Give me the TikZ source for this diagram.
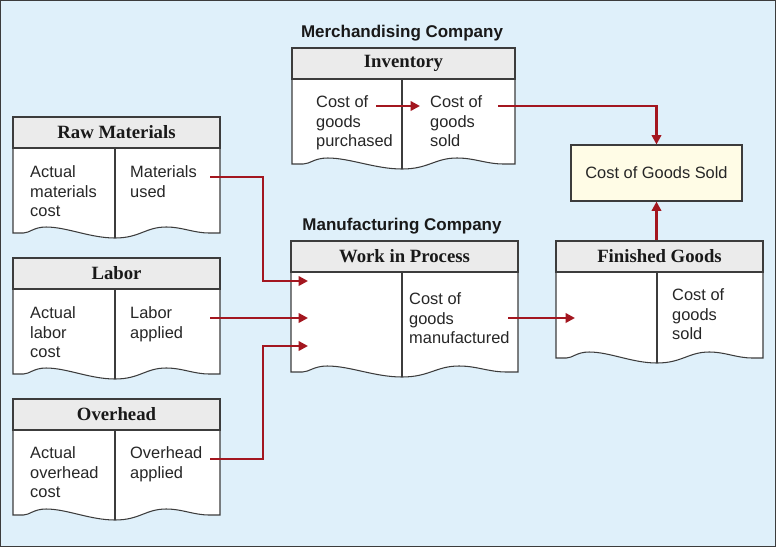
\documentclass[tikz,border=0pt]{standalone}
\usepackage{fontspec}
\setsansfont{Liberation Sans}
\newfontfamily\kopffont{Liberation Serif}
\usetikzlibrary{arrows.meta}
\definecolor{hgblau}{HTML}{DFF0FA}
\definecolor{rahmen}{HTML}{3C3C3C}
\definecolor{kopfgrau}{HTML}{EBEBEB}
\definecolor{gelb}{HTML}{FFFCE6}
\definecolor{pfeilrot}{HTML}{A3161F}
% T-Konto: Name, links, oben, rechts, Trennlinie, unten, Titel
\newcommand{\konto}[7]{%
  \pgfmathsetmacro\kw{#4-#2}
  \draw[rumpf] (#2,#3+31) -- (#4,#3+31) -- (#4,#6) -- ({#2+0.95*\kw},#6)
    .. controls ({#2+0.87*\kw},#6) and ({#2+0.82*\kw},#6-6) .. ({#2+0.74*\kw},#6-6)
    .. controls ({#2+0.64*\kw},#6-6) and ({#5+0.12*\kw},#6+5) .. (#5,#6+5)
    .. controls ({#5-0.12*\kw},#6+5) and ({#2+0.26*\kw},#6-6) .. ({#2+0.16*\kw},#6-6)
    .. controls ({#2+0.10*\kw},#6-6) and ({#2+0.08*\kw},#6) .. ({#2+0.05*\kw},#6)
    -- (#2,#6) -- cycle;
  \draw[rumpf] (#5,#3+31) -- (#5,#6+5);
  \node[kopf, minimum width={(#4-#2)*0.03cm}] (#1) at ({(#2+#4)/2},#3+15.5) {#7};
}
\begin{document}
\begin{tikzpicture}[x=0.03cm, y=-0.03cm,
    kopf/.style={draw=rahmen, fill=kopfgrau, line width=0.9pt, inner sep=0,
      minimum height=0.93cm, text=black!90, font=\kopffont\bfseries\fontsize{16}{18}\selectfont},
    rumpf/.style={draw=rahmen, fill=white, line width=0.9pt},
    buchung/.style={anchor=north west, inner sep=0, align=left, text=black!85,
      font=\sffamily\fontsize{14}{17}\selectfont},
    titel/.style={anchor=base, text=black!90, font=\sffamily\bfseries\fontsize{14.5}{17}\selectfont},
    pfeil/.style={draw=pfeilrot, line width=2.4pt, -{Triangle[length=8pt,width=8pt]}},
    linie/.style={draw=pfeilrot, line width=2.4pt}]
  \useasboundingbox (0,0) rectangle (776,547);
  \fill[hgblau] (0,0) rectangle (776,547);
  \draw[rahmen, line width=1.2pt] (0.7,0.7) rectangle (775.3,546.3);

  \node[titel] (merch) at (402,37) {Merchandising Company};
  \node[titel] (manu) at (402,230) {Manufacturing Company};

  % Konten
  \konto{rm}{13}{117}{220}{115}{233}{Raw Materials}
  \konto{lab}{13}{258}{220}{115}{374}{Labor}
  \konto{oh}{13}{399}{220}{115}{515}{Overhead}
  \konto{inv}{292}{48}{515}{402}{164}{Inventory}
  \konto{wip}{291}{241}{518}{402}{372}{Work in Process}
  \konto{fg}{556}{241}{763}{657}{358}{Finished Goods}

  \node[draw=rahmen, fill=gelb, line width=0.9pt, minimum width=5.13cm, minimum height=1.68cm,
    text=black!85, font=\sffamily\fontsize{14}{17}\selectfont] (cgs) at (656.5,173) {Cost of Goods Sold};

  % Buchungstexte
  \node[buchung] (rmcost) at (30,165) {Actual\\materials\\cost};
  \node[buchung] (rmused) at (130,165) {Materials\\used};
  \node[buchung] (labcost) at (30,306) {Actual\\labor\\cost};
  \node[buchung] (labapplied) at (130,306) {Labor\\applied};
  \node[buchung] (ohcost) at (30,446) {Actual\\overhead\\cost};
  \node[buchung] (ohapplied) at (130,446) {Overhead\\applied};
  \node[buchung] (invpurch) at (316,95) {Cost of\\goods\\purchased};
  \node[buchung] (invsold) at (430,95) {Cost of\\goods\\sold};
  \node[buchung] (wipcgm) at (409,292) {Cost of\\goods\\manufactured};
  \node[buchung] (fgsold) at (672,288) {Cost of\\goods\\sold};

  % Pfeile
  \coordinate (rmaus) at (210,177);
  \coordinate (labaus) at (210,318);
  \coordinate (ohaus) at (210,459);
  \coordinate (wipein1) at (308,281);
  \coordinate (wipein2) at (308,318);
  \coordinate (wipein3) at (308,346);
  \coordinate (wipaus) at (508,318);
  \coordinate (fgein) at (575,318);
  \coordinate (invaus) at (376,106);
  \coordinate (invein) at (420,106);
  \coordinate (invsoldaus) at (498,106);
  \draw[pfeil] (rmaus) -- ++(53,0) |- (wipein1);
  \draw[pfeil] (labaus) -- (wipein2);
  \draw[pfeil] (ohaus) -- ++(53,0) |- (wipein3);
  \draw[pfeil] (wipaus) -- (fgein);
  \draw[pfeil] (invaus) -- (invein);
  \draw[pfeil] (invsoldaus) -| (cgs.north);
  \draw[pfeil] (fg.north -| cgs.south) -- (cgs.south);
\end{tikzpicture}
\end{document}
